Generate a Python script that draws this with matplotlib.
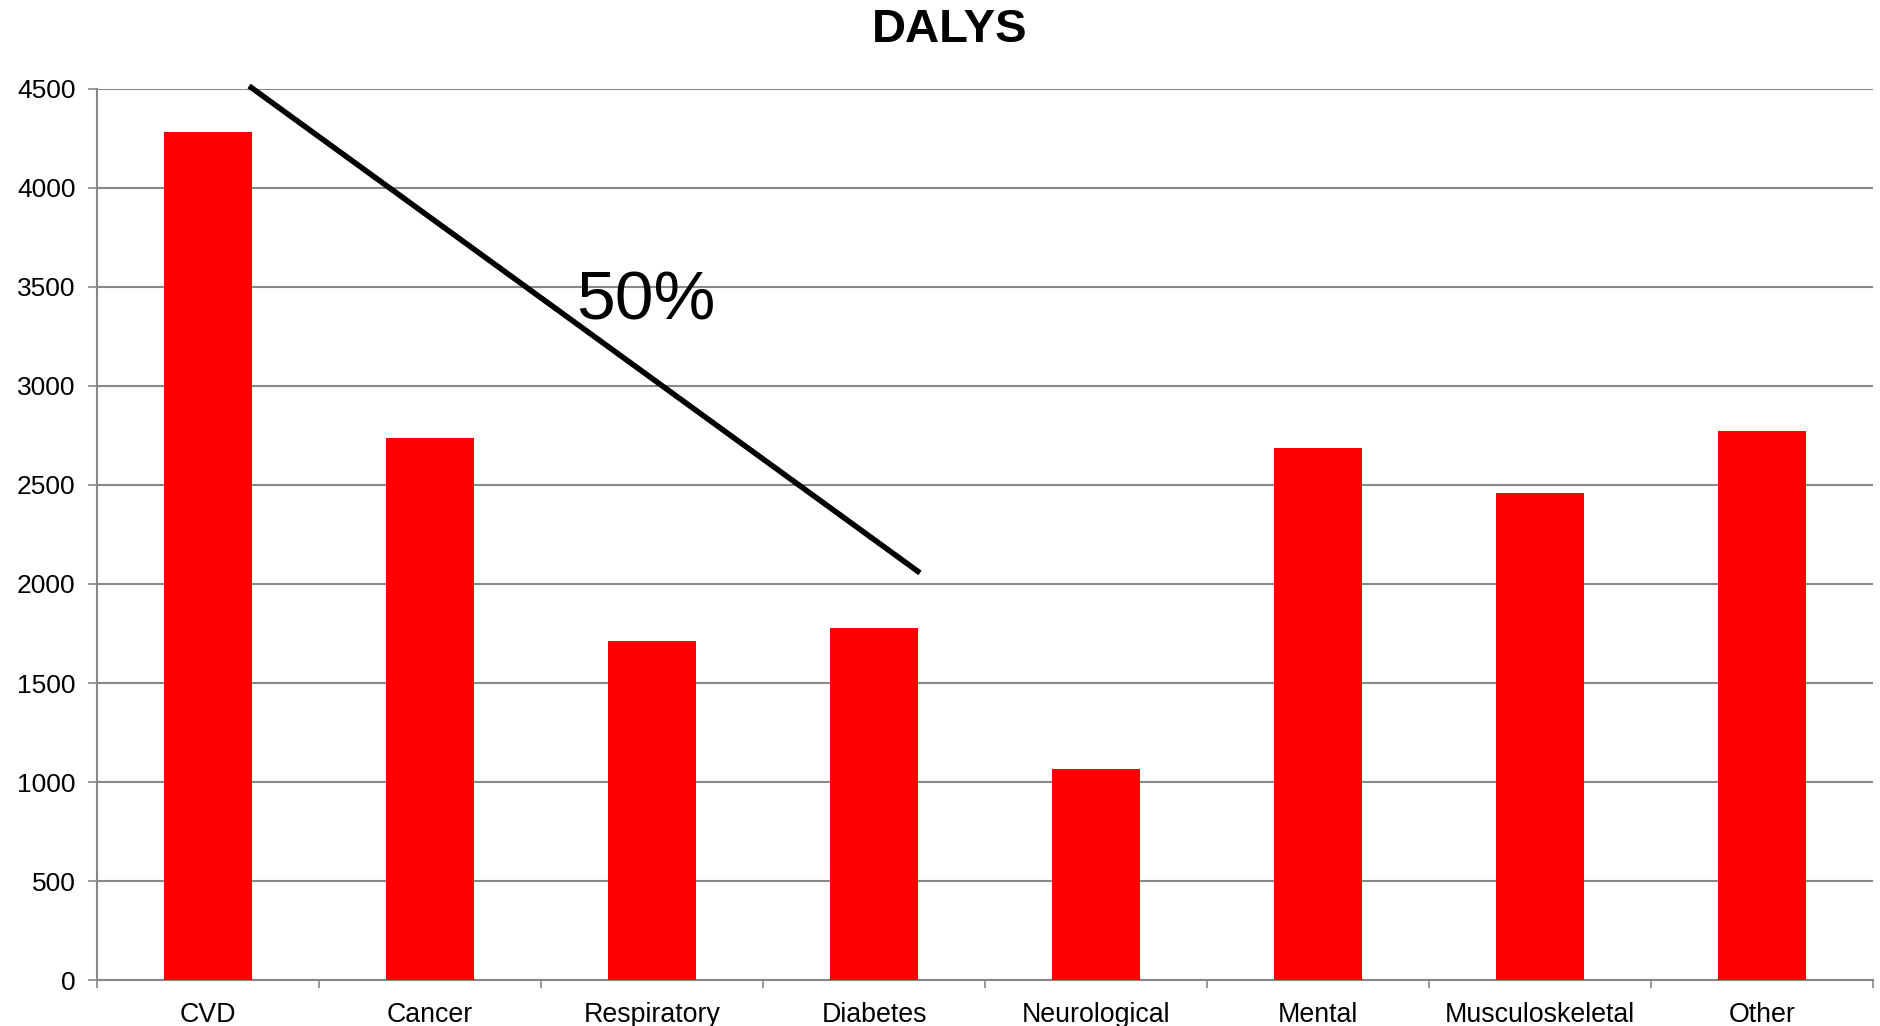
import matplotlib
matplotlib.use("Agg")
import matplotlib.pyplot as plt

categories = ["CVD", "Cancer", "Respiratory", "Diabetes", "Neurological",
              "Mental", "Musculoskeletal", "Other"]
dalys = [4283, 2735, 1710, 1776, 1068, 2687, 2460, 2773]
y_ticks = [0, 500, 1000, 1500, 2000, 2500, 3000, 3500, 4000, 4500]

# Annotation line: (category position, value) endpoints, and its label
trend_x = [0.185, 3.207]
trend_y = [4515, 2056]
trend_label = "50%"

plt.rcParams["font.family"] = ["Liberation Sans", "DejaVu Sans"]

fig = plt.figure(figsize=(18.8, 10.26), dpi=100)
ax = fig.add_axes([0.0516, 0.0448, 0.9447, 0.8685])

grey = "#888888"
x = range(len(categories))
ax.bar(x, dalys, width=0.4, color="#ff0000", zorder=3)

ax.set_xlim(-0.5, len(categories) - 0.5)
ax.set_ylim(0, 4500)
ax.set_yticks(y_ticks)
ax.set_yticklabels([str(v) for v in y_ticks], fontsize=19)
ax.set_xticks(list(x))
ax.set_xticklabels(categories, fontsize=19.3)
ax.set_xticks([i - 0.5 for i in range(len(categories) + 1)], minor=True)

ax.yaxis.grid(True, color=grey, linewidth=1.5, zorder=0)
ax.set_axisbelow(True)

for side in ("top", "right"):
    ax.spines[side].set_visible(False)
for side in ("left", "bottom"):
    ax.spines[side].set_color(grey)
    ax.spines[side].set_linewidth(1.5)

ax.tick_params(axis="y", direction="out", length=6.5, width=1.2, color=grey, pad=9)
ax.tick_params(axis="x", which="major", length=0, pad=15.5)
ax.tick_params(axis="x", which="minor", direction="out", length=6, width=1.2, color=grey)

ax.plot(trend_x, trend_y, color="black", linewidth=4.0, solid_capstyle="butt",
        clip_on=False, zorder=4)
ax.text(1.66, 3338, trend_label, fontsize=50, ha="left", va="baseline", zorder=5)

fig.text(0.505, 0.971, "DALYS", fontsize=34, fontweight="bold", ha="center", va="center")

fig.savefig("out.png", dpi=100)
